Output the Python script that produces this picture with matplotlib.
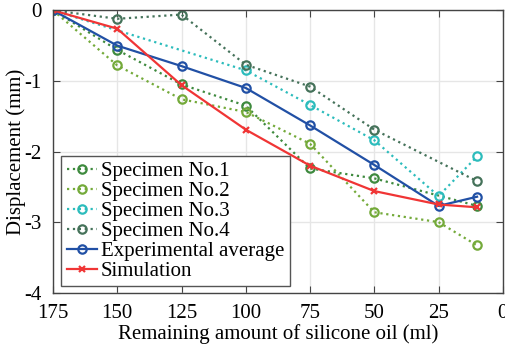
import matplotlib
matplotlib.use("Agg")
import matplotlib.pyplot as plt

plt.rcParams['font.family'] = ['Liberation Serif', 'DejaVu Serif']
plt.rcParams['axes.unicode_minus'] = False

spec1_x = [175, 150, 125, 100, 75, 50, 10]
spec1_y = [0, -0.56, -1.05, -1.35, -2.24, -2.38, -2.77]

spec2_x = [175, 150, 125, 100, 75, 50, 25, 10]
spec2_y = [0, -0.78, -1.26, -1.44, -1.89, -2.86, -3.00, -3.33]

spec3_x = [175, 100, 75, 50, 25, 10]
spec3_y = [0, -0.85, -1.34, -1.84, -2.63, -2.07]

spec4_x = [175, 150, 125, 100, 75, 50, 10]
spec4_y = [0, -0.12, -0.06, -0.77, -1.08, -1.69, -2.42]

avg_x = [175, 150, 125, 100, 75, 50, 25, 10]
avg_y = [0, -0.50, -0.79, -1.10, -1.63, -2.19, -2.77, -2.64]

sim_x = [175, 150, 125, 100, 75, 50, 25, 10]
sim_y = [0, -0.26, -1.06, -1.69, -2.20, -2.56, -2.75, -2.79]

labels = ['Specimen No.1', 'Specimen No.2', 'Specimen No.3', 'Specimen No.4',
          'Experimental average', 'Simulation']
xticks = [175, 150, 125, 100, 75, 50, 25, 0]
yticks = [0, -1, -2, -3, -4]

fig = plt.figure(figsize=(5.06, 3.44), dpi=100)
ax = fig.add_axes([0.1047, 0.149, 0.889, 0.821])

c1 = '#3e8a3e'
c2 = '#74aa3a'
c3 = '#2cbcbc'
c4 = '#45725a'
cavg = '#2150a5'
csim = '#f03535'

kw = dict(marker='o', markersize=6, markerfacecolor='none', markeredgewidth=1.6, linewidth=1.6)
ax.plot(spec1_x, spec1_y, linestyle=':', color=c1, label=labels[0], **kw)
ax.plot(spec2_x, spec2_y, linestyle=':', color=c2, label=labels[1], **kw)
ax.plot(spec3_x, spec3_y, linestyle=':', color=c3, label=labels[2], **kw)
ax.plot(spec4_x, spec4_y, linestyle=':', color=c4, label=labels[3], **kw)
ax.plot(avg_x, avg_y, linestyle='-', color=cavg, label=labels[4], **kw)
ax.plot(sim_x, sim_y, linestyle='-', color=csim, marker='x', markersize=4,
        markeredgewidth=1.6, linewidth=1.6, label=labels[5])

ax.set_xlim(175, 0)
ax.set_ylim(-4, 0)
ax.set_xticks(xticks)
ax.set_yticks(yticks)
ax.set_xticklabels([str(v) for v in xticks])
ax.set_yticklabels([str(v) for v in yticks])
ax.tick_params(direction='in', top=True, right=True, labelsize=15, length=5,
               color='#444444')
ax.tick_params(axis='x', pad=8)
ax.tick_params(axis='y', pad=8)
ax.grid(True, color='#e6e6e6', linewidth=1.0)
ax.set_axisbelow(True)
for s in ax.spines.values():
    s.set_color('#444444')
    s.set_linewidth(1.0)

ax.set_xlabel('Remaining amount of silicone oil (ml)', fontsize=15, labelpad=1)
ax.set_ylabel('Displacement (mm)', fontsize=15, labelpad=-1)

leg = ax.legend(loc='lower left', fontsize=15, frameon=True, fancybox=False,
                edgecolor='#555555', framealpha=1, borderpad=0.25,
                labelspacing=0.02, handlelength=1.45, handletextpad=0.2,
                borderaxespad=0.3, bbox_to_anchor=(0.005, 0.0))
leg.get_frame().set_linewidth(1.0)

fig.savefig('out.png', dpi=100)
